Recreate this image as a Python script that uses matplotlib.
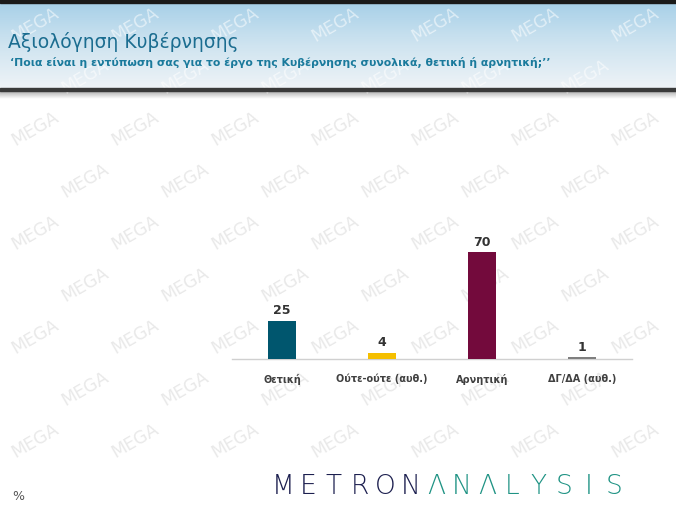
import numpy as np
import matplotlib
matplotlib.use("Agg")
import matplotlib.pyplot as plt
from matplotlib.colors import LinearSegmentedColormap

categories = ["Θετική", "Ούτε-ούτε (αυθ.)", "Αρνητική", "ΔΓ/ΔΑ (αυθ.)"]
values = [25, 4, 70, 1]
colors = ["#00566e", "#f5bf00", "#730a3c", "#7f7f7f"]
title = "Αξιολόγηση Κυβέρνησης"
subtitle = "‘Ποια είναι η εντύπωση σας για το έργο της Κυβέρνησης συνολικά, θετική ή αρνητική;’’"

W, H = 676, 506
fig = plt.figure(figsize=(W / 100, H / 100), dpi=100)
fig.patch.set_facecolor("white")

# Header background
bg = fig.add_axes([0, 0, 1, 1], zorder=0)
bg.set_xlim(0, W)
bg.set_ylim(H, 0)
bg.axis("off")
cmap = LinearSegmentedColormap.from_list("hdr", ["#a7d0e8", "#cfe4f0", "#eef3f7"])
grad = np.linspace(0, 1, 100).reshape(-1, 1)
bg.imshow(grad, cmap=cmap, extent=[0, W, 89, 3], aspect="auto", zorder=0)
bg.add_patch(plt.Rectangle((0, 0), W, 3.5, color="#1a1a1a", zorder=4))
bg.add_patch(plt.Rectangle((0, 89), W, 3, color="#3a3a3a", zorder=4))
shade = np.linspace(0, 1, 20).reshape(-1, 1)
bg.imshow(shade, cmap=LinearSegmentedColormap.from_list("sh", ["#b0b0b0", "#ffffff"]),
          extent=[0, W, 100, 92], aspect="auto", zorder=1)

# Watermarks (kept inside the figure)
for row in range(0, 10):
    for col in range(0, 8):
        x = col * 100 + (row % 2) * 50 + 35
        y = row * 52 + 25
        if x < 30 or x > W - 30 or y < 15 or y > H - 15:
            continue
        wc = "#ffffff" if y < 95 else "#e9e9e9"
        bg.text(x, y, "MEGA", rotation=30, fontsize=12.5, color=wc,
                alpha=0.55 if y < 95 else 1.0,
                ha="center", va="center", zorder=2)

bg.text(8, 42, title, fontsize=13.5, color="#1b6d90", ha="left", va="center",
        family="DejaVu Sans", zorder=3)
bg.text(10, 62, subtitle, fontsize=7.8, color="#1a7a9c", ha="left", va="center",
        fontweight="bold", family="DejaVu Sans", zorder=3)

bg.text(18, 497, "%", fontsize=9, color="#555555", ha="center", va="center", zorder=3)

logo = "METRONΛNΛLYSIS"
for i, ch in enumerate(logo):
    c = "#1c1f4f" if i < 6 else "#1f9384"
    bg.text(283 + i * 25.5, 487, ch, fontsize=19, color=c, ha="center", va="center",
            family="DejaVu Sans", fontweight="light", zorder=3)

# Chart
ax = fig.add_axes([232 / W, 1 - 360 / H, 400 / W, 122 / H], zorder=5)
ax.patch.set_alpha(0)
x = np.arange(len(categories))
ax.bar(x, values, width=0.28, color=colors, zorder=3)
for xi, v in zip(x, values):
    ax.text(xi, v + 3, str(v), ha="center", va="bottom", fontsize=9,
            fontweight="bold", color="#333333")
ax.set_xlim(-0.5, len(categories) - 0.5)
ax.set_ylim(0, 80)
ax.set_yticks([])
ax.set_xticks(x)
ax.set_xticklabels(categories, fontsize=7, fontweight="bold", color="#404040")
ax.tick_params(axis="x", length=0, pad=10)
for s in ["top", "right", "left"]:
    ax.spines[s].set_visible(False)
ax.spines["bottom"].set_color("#d0d0d0")
ax.spines["bottom"].set_linewidth(1)

fig.savefig("out.png", dpi=100)
